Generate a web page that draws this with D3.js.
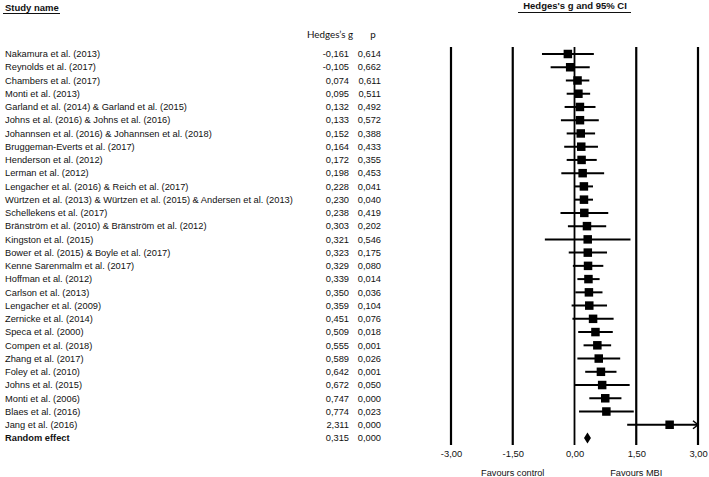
<!DOCTYPE html>
<html>
<head>
<meta charset="utf-8">
<script src="https://cdn.jsdelivr.net/npm/d3@7"></script>
<style>
  body { margin: 0; background: #fff; }
  text { font-family: "Liberation Sans", Arial, sans-serif; fill: #111; }
</style>
</head>
<body>
<script>
// study rows, top to bottom
let studies = [
    "Nakamura et al. (2013)",
    "Reynolds et al. (2017)",
    "Chambers et al. (2017)",
    "Monti et al. (2013)",
    "Garland et al. (2014) & Garland et al. (2015)",
    "Johns et al. (2016) & Johns et al. (2016)",
    "Johannsen et al. (2016) & Johannsen et al. (2018)",
    "Bruggeman-Everts et al. (2017)",
    "Henderson et al. (2012)",
    "Lerman et al. (2012)",
    "Lengacher et al. (2016) & Reich et al. (2017)",
    "Würtzen et al. (2013) & Würtzen et al. (2015) & Andersen et al. (2013)",
    "Schellekens et al. (2017)",
    "Bränström et al. (2010) & Bränström et al. (2012)",
    "Kingston et al. (2015)",
    "Bower et al. (2015) & Boyle et al. (2017)",
    "Kenne Sarenmalm et al. (2017)",
    "Hoffman et al. (2012)",
    "Carlson et al. (2013)",
    "Lengacher et al. (2009)",
    "Zernicke et al. (2014)",
    "Speca et al. (2000)",
    "Compen et al. (2018)",
    "Zhang et al. (2017)",
    "Foley et al. (2010)",
    "Johns et al. (2015)",
    "Monti et al. (2006)",
    "Blaes et al. (2016)",
    "Jang et al. (2016)"
]
let hedgesG = [-0.161, -0.105, 0.074, 0.095, 0.132, 0.133, 0.152, 0.164, 0.172, 0.198,
    0.228, 0.230, 0.238, 0.303, 0.321, 0.323, 0.329, 0.339, 0.350, 0.359,
    0.451, 0.509, 0.555, 0.589, 0.642, 0.672, 0.747, 0.774, 2.311]
let pValues = [0.614, 0.662, 0.611, 0.511, 0.492, 0.572, 0.388, 0.433, 0.355, 0.453,
    0.041, 0.040, 0.419, 0.202, 0.546, 0.175, 0.080, 0.014, 0.036, 0.104,
    0.076, 0.018, 0.001, 0.026, 0.001, 0.050, 0.000, 0.023, 0.000]
let lower = [-0.79, -0.58, -0.21, -0.19, -0.24, -0.33, -0.19, -0.25, -0.19, -0.32,
    0.01, 0.01, -0.34, -0.16, -0.72, -0.14, -0.04, 0.07, 0.02, -0.07,
    -0.05, 0.09, 0.22, 0.07, 0.26, 0.00, 0.36, 0.11, 1.28]
let upper = [0.47, 0.37, 0.36, 0.38, 0.51, 0.59, 0.50, 0.57, 0.54, 0.72,
    0.45, 0.45, 0.82, 0.77, 1.36, 0.79, 0.70, 0.61, 0.68, 0.79,
    0.95, 0.93, 0.89, 1.11, 1.02, 1.34, 1.14, 1.44, 3.34]

let pooled = { name: "Random effect", g: 0.315, p: 0.000, lower: 0.23, upper: 0.40 }

let axisTicks = [-3, -1.5, 0, 1.5, 3]
let favours = [{ text: "Favours control", at: -1.5 }, { text: "Favours MBI", at: 1.5 }]

let w = 709
let h = 477

let svg = d3.select("body")
    .append("svg")
    .attr("width", w)
    .attr("height", h)

let loc = d3.formatLocale({ decimal: ",", thousands: ".", grouping: [3], currency: ["", ""], minus: "-" })
let f3 = loc.format(".3f")
let f2 = loc.format(".2f")

let x = d3.scaleLinear().domain([-3, 3]).range([451, 698])
let y = d3.scaleLinear().domain([0, studies.length]).range([54, 438])

let rows = studies.map((s, i) => ({
    name: s, g: hedgesG[i], p: pValues[i], lower: lower[i], upper: upper[i], i: i
}))

// headers
svg.append("text")
    .attr("x", 5).attr("y", 11)
    .style("font-size", "9.5px").style("font-weight", "bold")
    .text("Study name")
svg.append("line")
    .attr("x1", 3).attr("x2", 60).attr("y1", 13.5).attr("y2", 13.5)
    .attr("stroke", "#111").attr("stroke-width", 1)

svg.append("text")
    .attr("x", 575).attr("y", 9)
    .attr("text-anchor", "middle")
    .style("font-size", "9.5px").style("font-weight", "bold")
    .text("Hedges's g and 95% CI")
svg.append("line")
    .attr("x1", 518).attr("x2", 631).attr("y1", 12.5).attr("y2", 12.5)
    .attr("stroke", "#111").attr("stroke-width", 1)

svg.append("text")
    .attr("x", 330).attr("y", 38)
    .attr("text-anchor", "middle")
    .style("font-family", "Lato, 'Open Sans', sans-serif")
    .style("font-size", "9.8px")
    .text("Hedges\u2019s g")
svg.append("text")
    .attr("x", 373).attr("y", 38)
    .attr("text-anchor", "middle")
    .style("font-family", "Lato, 'Open Sans', sans-serif")
    .style("font-size", "9.8px")
    .text("p")

// vertical reference lines
svg.append("g")
    .selectAll("line")
    .data(axisTicks)
    .enter()
    .append("line")
    .attr("x1", d => x(d)).attr("x2", d => x(d))
    .attr("y1", 47).attr("y2", 445)
    .attr("stroke", "#000")
    .attr("stroke-width", d => d == 0 ? 1.8 : 2.2)

// text columns
let tg = svg.append("g").style("font-size", "9.3px")
tg.selectAll(".name")
    .data(rows)
    .enter()
    .append("text")
    .attr("x", 5)
    .attr("y", d => y(d.i))
    .attr("dy", "0.35em")
    .text(d => d.name)
tg.selectAll(".gval")
    .data(rows)
    .enter()
    .append("text")
    .attr("x", 349)
    .attr("y", d => y(d.i))
    .attr("dy", "0.35em")
    .attr("text-anchor", "end")
    .text(d => f3(d.g))
tg.selectAll(".pval")
    .data(rows)
    .enter()
    .append("text")
    .attr("x", 381)
    .attr("y", d => y(d.i))
    .attr("dy", "0.35em")
    .attr("text-anchor", "end")
    .text(d => f3(d.p))

let py = y(studies.length)
svg.append("text")
    .attr("x", 5).attr("y", py).attr("dy", "0.35em")
    .style("font-size", "9.3px").style("font-weight", "bold")
    .text(pooled.name)
svg.append("text")
    .attr("x", 349).attr("y", py).attr("dy", "0.35em")
    .attr("text-anchor", "end").style("font-size", "9.3px")
    .text(f3(pooled.g))
svg.append("text")
    .attr("x", 381).attr("y", py).attr("dy", "0.35em")
    .attr("text-anchor", "end").style("font-size", "9.3px")
    .text(f3(pooled.p))

// confidence intervals
let plot = svg.append("g")
plot.selectAll(".ci")
    .data(rows)
    .enter()
    .append("line")
    .attr("x1", d => x(Math.max(-3, d.lower)))
    .attr("x2", d => x(Math.min(3, d.upper)))
    .attr("y1", d => y(d.i)).attr("y2", d => y(d.i))
    .attr("stroke", "#000").attr("stroke-width", 2)

// arrows where the interval runs past the axis
plot.selectAll(".arrow")
    .data(rows.filter(d => d.upper > 3))
    .enter()
    .append("path")
    .attr("d", d => "M" + (x(3) - 5) + "," + (y(d.i) - 4) + "L" + x(3) + "," + y(d.i) + "L" + (x(3) - 5) + "," + (y(d.i) + 4))
    .attr("fill", "none").attr("stroke", "#000").attr("stroke-width", 1.5)

let bs = 8.5
plot.selectAll(".box")
    .data(rows)
    .enter()
    .append("rect")
    .attr("x", d => x(d.g) - bs / 2)
    .attr("y", d => y(d.i) - bs / 2)
    .attr("width", bs).attr("height", bs)
    .attr("fill", "#000")

// pooled diamond
plot.append("path")
    .attr("d", "M" + x(pooled.lower) + "," + py +
        "L" + x(pooled.g) + "," + (py - 5.5) +
        "L" + x(pooled.upper) + "," + py +
        "L" + x(pooled.g) + "," + (py + 5.5) + "Z")
    .attr("fill", "#000")

// axis labels
let axis = d3.axisBottom(x)
    .tickValues(axisTicks)
    .tickFormat(f2)
    .tickSize(0)
    .tickPadding(0)
let ag = svg.append("g")
    .attr("transform", "translate(0,450)")
    .call(axis)
ag.select(".domain").remove()
ag.selectAll("text")
    .style("font-family", "'Liberation Sans', Arial, sans-serif")
    .style("font-size", "9.4px")
    .attr("fill", "#111")

svg.selectAll(".fav")
    .data(favours)
    .enter()
    .append("text")
    .attr("x", d => x(d.at))
    .attr("y", 476)
    .attr("text-anchor", "middle")
    .style("font-size", "9.2px")
    .text(d => d.text)
</script>
</body>
</html>
